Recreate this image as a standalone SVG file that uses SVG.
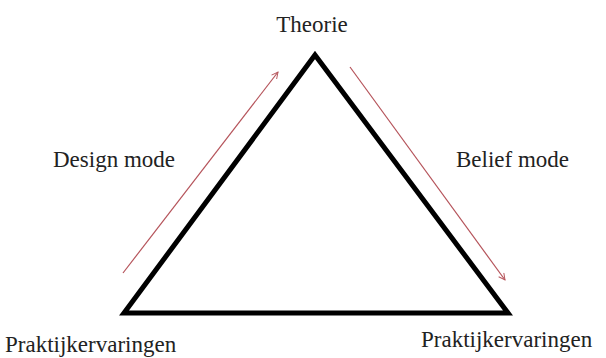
<svg xmlns="http://www.w3.org/2000/svg" width="606" height="358" viewBox="0 0 606 358">
<defs>
<style>
.lbl{font-family:"Liberation Serif","Times New Roman",serif;font-size:23px;fill:#222}
.edge{stroke:#000;stroke-width:5;fill:none;stroke-linejoin:miter}
.arr{stroke:#b5535a;stroke-width:1.2;fill:none}
</style>
<marker id="ah" viewBox="0 0 10 10" refX="9" refY="5" markerWidth="8" markerHeight="8" orient="auto" markerUnits="userSpaceOnUse">
<path d="M1,1 L9,5 L1,9" fill="none" stroke="#b5535a" stroke-width="1.2"/>
</marker>
</defs>
<rect width="606" height="358" fill="#fff"/>
<g id="connectors">
<polygon class="edge" points="315,55 508,313 124,313"/>
<line class="arr" x1="123" y1="273" x2="278" y2="72" marker-end="url(#ah)"/>
<line class="arr" x1="350" y1="67" x2="505" y2="280" marker-end="url(#ah)"/>
</g>
<g id="theorie"><text class="lbl" x="312" y="32" text-anchor="middle">Theorie</text></g>
<g id="design"><text class="lbl" x="53" y="167">Design mode</text></g>
<g id="belief"><text class="lbl" x="456" y="167">Belief mode</text></g>
<g id="prak-left"><text class="lbl" x="5" y="352">Praktijkervaringen</text></g>
<g id="prak-right"><text class="lbl" x="421" y="347">Praktijkervaringen</text></g>
</svg>
